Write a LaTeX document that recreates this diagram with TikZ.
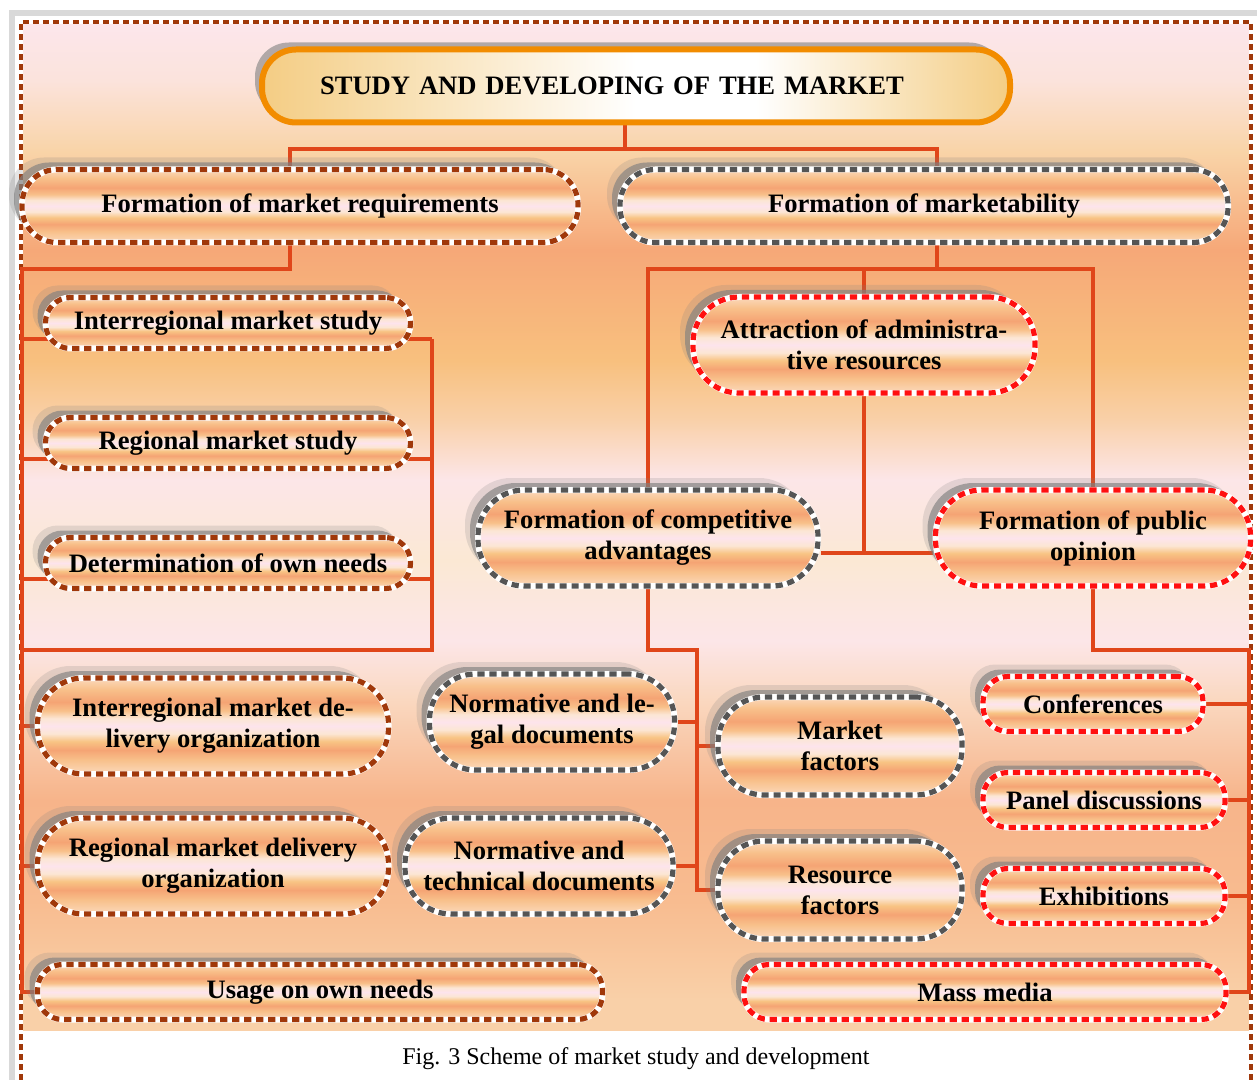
\documentclass[tikz,border=0pt]{standalone}
\usepackage{fontspec}
\setmainfont{Liberation Serif}
\usetikzlibrary{shadows}

\definecolor{wire}{HTML}{E0461A}
\definecolor{rimbrown}{HTML}{A0380A}
\definecolor{rimgray}{HTML}{555555}
\definecolor{rimred}{HTML}{FF1010}
\definecolor{rimgold}{HTML}{F28C00}
\definecolor{gold}{HTML}{F4CD84}
\definecolor{bandA}{HTML}{FBD9BC}
\definecolor{bandB}{HTML}{F8C08A}
\definecolor{bandC}{HTML}{F5A474}
\definecolor{bandD}{HTML}{FCE6D4}
\definecolor{bandE}{HTML}{FDE4EC}
\definecolor{bandF}{HTML}{F8C484}
\definecolor{bgA}{HTML}{FCE6EC}
\definecolor{bgB}{HTML}{FBE3DC}
\definecolor{bgC}{HTML}{F9D4A8}
\definecolor{bgD}{HTML}{F6A878}
\definecolor{bgE}{HTML}{F8C07E}
\definecolor{bgF}{HTML}{F9D0A8}
\definecolor{bgG}{HTML}{FCE6E8}
\definecolor{bgH}{HTML}{FBE8D4}
\definecolor{bgI}{HTML}{FAD8C0}
\definecolor{bgJ}{HTML}{F7B48A}
\definecolor{bgK}{HTML}{F8BC90}

\pgfdeclareverticalshading{bands}{100bp}{color(0bp)=(bandA); color(25bp)=(bandA);
 color(32.5bp)=(bandB); color(37.5bp)=(bandC); color(42bp)=(bandF); color(46bp)=(bandD);
 color(50bp)=(bandE); color(54bp)=(bandD); color(58bp)=(bandB); color(62.5bp)=(bandC);
 color(69bp)=(bandB); color(75bp)=(bandA); color(100bp)=(bandA)}
\pgfdeclareverticalshading{backdrop}{100bp}{color(0bp)=(bgF); color(26.5bp)=(bgF);
 color(31.4bp)=(bgK); color(36.4bp)=(bgJ); color(41.4bp)=(bgI); color(44.3bp)=(bgG);
 color(48.3bp)=(bgH); color(52.3bp)=(bgG); color(55.3bp)=(bgF); color(58.2bp)=(bgE);
 color(63.7bp)=(bgD); color(68.6bp)=(bgC); color(72.1bp)=(bgB); color(75bp)=(bgA);
 color(100bp)=(bgA)}
\pgfdeclarehorizontalshading{glow}{100bp}{color(0bp)=(gold); color(25bp)=(gold);
 color(50bp)=(white); color(58bp)=(white); color(75bp)=(gold); color(100bp)=(gold)}

\pgfdeclarelayer{back}
\pgfdeclarelayer{wires}
\pgfsetlayers{back,wires,main}

\tikzset{
  pill/.style={rectangle, inner sep=0pt, align=center, shade, shading=bands,
    font=\bfseries\fontsize{13.3}{15.5}\selectfont,
    general shadow={fill=gray, fill opacity=0.2, shadow xshift=-6.5pt, shadow yshift=6pt},
    general shadow={fill=gray, fill opacity=0.65, shadow xshift=-4pt, shadow yshift=3.5pt},
    draw=white, line width=3pt,
    postaction={draw=#1, line width=2.6pt, dash pattern=on 3.6pt off 2.4pt}},
  lowpill/.style={minimum height=27.5pt, rounded corners=12.5pt},
  midpill/.style={minimum height=36.5pt, rounded corners=17.5pt},
  tallpill/.style={minimum height=48pt, rounded corners=23pt},
  title/.style={rectangle, rounded corners=17pt, minimum height=36.5pt,
    inner xsep=29pt, inner ysep=0pt, text width=316pt, align=left,
    shade, shading=glow, draw=rimgold, line width=3pt,
    font=\bfseries\fontsize{13.3}{15.5}\selectfont,
    general shadow={fill=gray, fill opacity=0.6, shadow xshift=-3.5pt, shadow yshift=3.5pt}},
  link/.style={draw=wire, line width=2pt}
}

\begin{document}
\begin{tikzpicture}[x=0.5pt,y=-0.5pt]
\useasboundingbox (0,0) rectangle (1257,1080);

% Cadre
\begin{pgfonlayer}{back}
\fill[white] (0,0) rectangle (1257,1080);
\shade[shading=backdrop] (20,22) rectangle (1251,1030);
\draw[gray!30,line width=3pt] (12,1080) -- (12,13) -- (1257,13);
\draw[white,line width=2pt] (21,1080) -- (21,22) -- (1251,22) -- (1251,1080);
\draw[rimbrown,line width=2pt,dash pattern=on 3pt off 2pt] (21,1080) -- (21,22) -- (1251,22) -- (1251,1080);
\end{pgfonlayer}

% Sommet
\node[title] (top) at (636,86) {STUDY AND DEVELOPING OF THE MARKET};

% Deux branches
\node[pill=rimbrown,midpill,minimum width=278pt] (req) at (300,206) {Formation of market requirements};
\node[pill=rimgray,midpill,minimum width=304pt] (mkt) at (924,206) {Formation of marketability};

% Etudes
\foreach \n/\y/\t in {inter/323/Interregional market study,
  reg/443/Regional market study, own/563/Determination of own needs}
{
\node[pill=rimbrown,lowpill,minimum width=182.5pt,minimum height=25.5pt] (\n) at (228,\y) {\t};
}

% Commercialisation
\node[pill=rimred,tallpill,minimum width=171pt] (admin) at (864,345) {Attraction of administra-\\tive resources};
\node[pill=rimgray,tallpill,minimum width=170pt] (comp) at (648,538) {Formation of competitive\\advantages};
\node[pill=rimred,tallpill,minimum width=157.5pt] (opin) at (1093,538) {Formation of public\\opinion};

% Livraison
\node[pill=rimbrown,tallpill,minimum width=175.5pt] (idel) at (213,726) {Interregional market de-\\livery organization};
\node[pill=rimbrown,tallpill,minimum width=175.5pt] (rdel) at (213,866) {Regional market delivery\\organization};
\node[pill=rimgray,tallpill,minimum width=122.5pt] (nleg) at (552,722) {Normative and le-\\gal documents};
\node[pill=rimgray,tallpill,minimum width=134pt] (ntech) at (539,866) {Normative and\\technical documents};
\node[pill=rimbrown,lowpill,minimum width=282.5pt] (usage) at (320,992) {Usage on own needs};

% Opinion publique
\node[pill=rimred,lowpill,minimum width=110pt] (conf) at (1093,704) {Conferences};
\node[pill=rimred,lowpill,minimum width=121pt] (panel) at (1104,800) {Panel discussions};
\node[pill=rimred,lowpill,minimum width=121pt] (expo) at (1104,896) {Exhibitions};
\node[pill=rimred,lowpill,minimum width=241pt] (media) at (985,992) {Mass media};

% Facteurs
\node[pill=rimgray,tallpill,minimum width=122pt,minimum height=49pt] (mfac) at (840,746) {Market\\factors};
\node[pill=rimgray,tallpill,minimum width=122pt,minimum height=49pt] (resf) at (840,890) {Resource\\factors};

\node[font=\fontsize{12}{14}\selectfont] (cap) at (636,1059) {Fig. 3 Scheme of market study and development};

% Liaisons
\coordinate (lbus) at (22,650);
\coordinate (rbus) at (432,650);
\coordinate (mbus) at (697,650);
\coordinate (ebus) at (1249,650);

\begin{pgfonlayer}{wires}
\draw[link] ([xshift=-5.5pt]top.south) -- ++(0,24) coordinate (tj);
\draw[link] ([xshift=-5pt]req.north) |- (tj) -| ([xshift=6.5pt]mkt.north);

\draw[link] ([xshift=-5pt]req.south) -- ++(0,24) -| (lbus) -- (lbus |- usage.west) -- (usage.west);
\foreach \n in {inter,reg,own}
{
\draw[link] ([yshift=-8pt]\n.center -| lbus) -- ([yshift=-8pt]\n.center -| rbus);
}
\draw[link] ([yshift=-8pt]inter.center -| rbus) -- (rbus) -- (lbus);
\foreach \n in {idel,rdel}
{
\draw[link] (lbus |- \n.west) -- (\n.west);
}

\draw[link] ([xshift=6.5pt]mkt.south) -- ++(0,24) coordinate (mj);
\draw[link] (comp.north) |- (mj -| opin.north) -- (opin.north);
\draw[link] (admin.north) -- (admin.north |- mj);
\draw[link] ([yshift=-7.5pt]comp.east) coordinate (cj) -- (cj -| opin.west);
\draw[link] (admin.south) -- (admin.south |- cj);

\draw[link] (comp.south) |- (mbus) -- (mbus |- resf.west) -- (resf.west);
\draw[link] (mbus |- mfac.west) -- (mfac.west);
\foreach \n in {nleg,ntech}
{
\draw[link] (\n.east) -- (\n.east -| mbus);
}

\draw[link] (opin.south) |- (ebus) -- (ebus |- media.east) -- (media.east);
\foreach \n in {conf,panel,expo}
{
\draw[link] (\n.east) -- (\n.east -| ebus);
}
\end{pgfonlayer}

\end{tikzpicture}
\end{document}
